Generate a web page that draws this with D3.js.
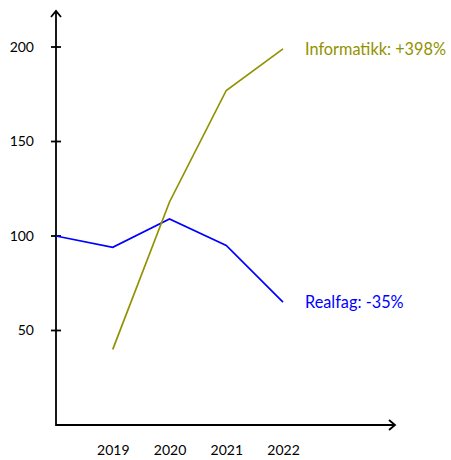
<!DOCTYPE html>
<html><head><meta charset="utf-8">
<script src="https://cdn.jsdelivr.net/npm/d3@7"></script>
<style>body{margin:0;background:#fff}svg{display:block}text{font-family:Lato,"Open Sans",sans-serif}</style>
</head><body>
<script>
const years = [2018, 2019, 2020, 2021, 2022];
const xTickLabels = [2019, 2020, 2021, 2022];
const yTicks = [50, 100, 150, 200];
const realfag = [100, 94, 109, 95, 65];
const informatikkYears = [2019, 2020, 2021, 2022];
const informatikk = [40, 118, 177, 199];
const labels = ["Informatikk: +398%", "Realfag: -35%"];

const W = 451, H = 460;
const svg = d3.select("body").append("svg").attr("width", W).attr("height", H);
const x = d3.scaleLinear().domain([2018, 2022]).range([56, 283]);
const y = d3.scaleLinear().domain([0, 200]).range([425, 47]);
const olive = "#929200", blue = "#0000ff";

// axes
const ax = svg.append("g").attr("stroke", "#000").attr("stroke-width", 1.8).attr("fill", "none");
ax.append("line").attr("x1", x(2018)).attr("x2", x(2018)).attr("y1", y(0) + 0.9).attr("y2", 11);
ax.append("path").attr("d", `M${x(2018)-5},${17} L${x(2018)},${11} L${x(2018)+5},${17}`);
ax.append("line").attr("x1", x(2018)).attr("x2", 395).attr("y1", y(0)).attr("y2", y(0));
ax.append("path").attr("d", `M${389},${y(0)-5} L${395},${y(0)} L${389},${y(0)+5}`);

const yAxis = d3.axisLeft(y).tickValues(yTicks).tickSize(0).tickPadding(22);
const gy = svg.append("g").attr("transform", `translate(${x(2018)},0)`).call(yAxis);
gy.select(".domain").remove();
gy.selectAll("text").attr("font-size", 14).attr("fill", "#000").attr("font-family", "Lato");
svg.append("g").selectAll("line").data(yTicks).join("line")
  .attr("x1", x(2018) - 5).attr("x2", x(2018) + 5)
  .attr("y1", d => y(d)).attr("y2", d => y(d))
  .attr("stroke", "#000").attr("stroke-width", 1.8);

const xAxis = d3.axisBottom(x).tickValues(xTickLabels).tickFormat(d3.format("d")).tickSize(0).tickPadding(20);
const gx = svg.append("g").attr("transform", `translate(0,${y(0)})`).call(xAxis);
gx.select(".domain").remove();
gx.selectAll("text").attr("font-size", 14).attr("fill", "#000").attr("font-family", "Lato");

const line = d3.line().x(d => x(d[0])).y(d => y(d[1]));
svg.append("path").datum(years.map((t, i) => [t, realfag[i]]))
  .attr("d", line).attr("fill", "none").attr("stroke", blue).attr("stroke-width", 1.7);
svg.append("path").datum(informatikkYears.map((t, i) => [t, informatikk[i]]))
  .attr("d", line).attr("fill", "none").attr("stroke", olive).attr("stroke-width", 1.7);

svg.append("text").attr("x", 305).attr("y", y(informatikk[3])).attr("dy", "0.35em")
  .attr("font-size", 16.3).attr("fill", olive).text(labels[0]);
svg.append("text").attr("x", 305).attr("y", y(realfag[4])).attr("dy", "0.35em")
  .attr("font-size", 16.3).attr("fill", blue).text(labels[1]);
</script>
</body></html>
